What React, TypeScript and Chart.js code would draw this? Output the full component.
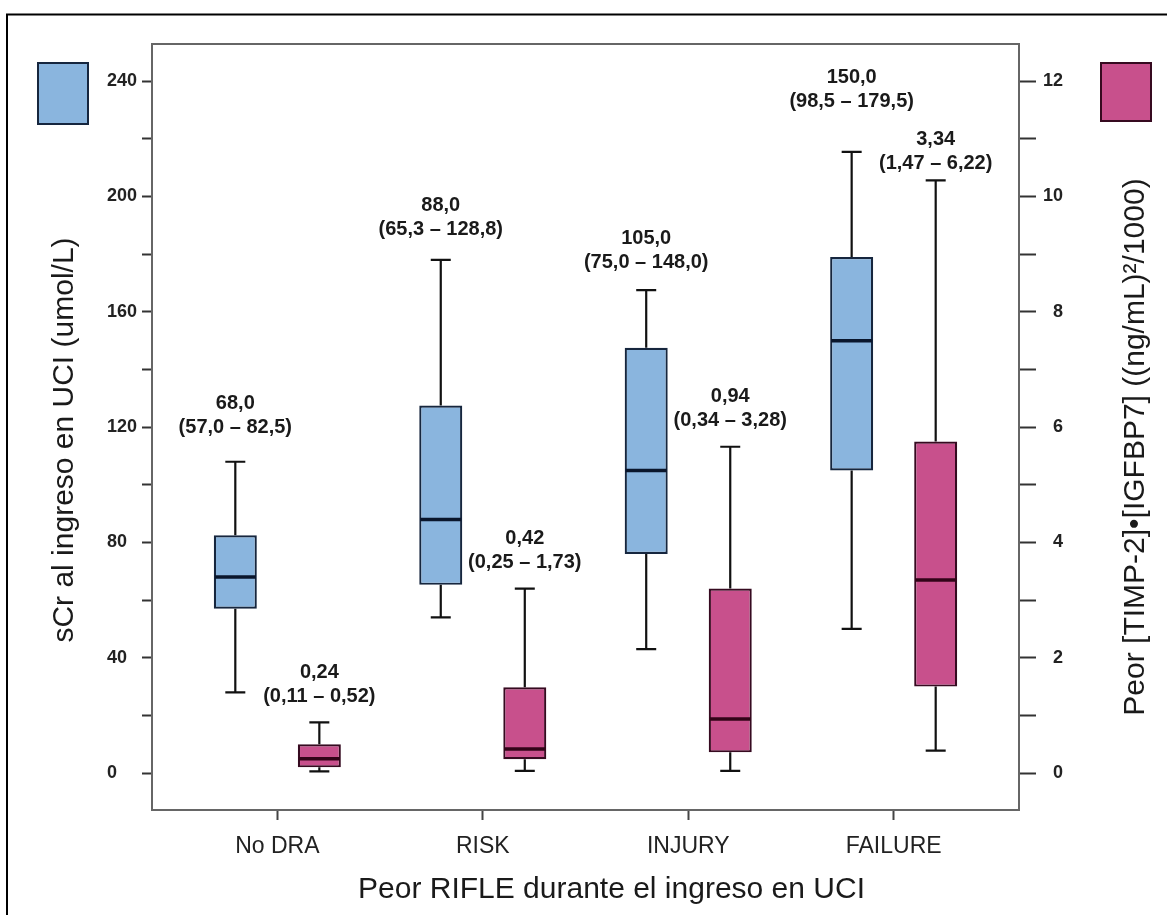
import React, { useEffect, useRef } from 'react';
import { Chart, registerables } from 'chart.js';

Chart.register(...registerables);

// ---------------- DATA ----------------
const categories = ['No DRA', 'RISK', 'INJURY', 'FAILURE'];

// sCr al ingreso en UCI (umol/L) — left axis, blue boxes
const sCrLow = [28, 54, 43, 50];
const sCrQ1 = [57, 65.3, 76, 105];
const sCrMedian = [68, 88, 105, 150];
const sCrQ3 = [82.5, 127.5, 147.5, 179];
const sCrHigh = [108, 178, 167.5, 215.5];
const sCrMedianLabels = ['68,0', '88,0', '105,0', '150,0'];
const sCrRangeLabels = ['(57,0 – 82,5)', '(65,3 – 128,8)', '(75,0 – 148,0)', '(98,5 – 179,5)'];

// Peor [TIMP-2]•[IGFBP7] — right axis, pink boxes
const bioLow = [0.03, 0.04, 0.04, 0.39];
const bioQ1 = [0.1, 0.24, 0.36, 1.5];
const bioMedian = [0.25, 0.42, 0.94, 3.35];
const bioQ3 = [0.5, 1.49, 3.2, 5.75];
const bioHigh = [0.88, 3.2, 5.66, 10.28];
const bioMedianLabels = ['0,24', '0,42', '0,94', '3,34'];
const bioRangeLabels = ['(0,11 – 0,52)', '(0,25 – 1,73)', '(0,34 – 3,28)', '(1,47 – 6,22)'];

// axis ticks (every value gets a tick mark; labelled ones listed separately)
const leftTickValues = [0, 20, 40, 60, 80, 100, 120, 140, 160, 180, 200, 220, 240];
const leftTickLabels = ['0', '40', '80', '120', '160', '200', '240'];
const rightTickValues = [0, 1, 2, 3, 4, 5, 6, 7, 8, 9, 10, 11, 12];
const rightTickLabels = ['0', '2', '4', '6', '8', '10', '12'];

// axis ranges
const leftMin = -12.8;
const leftMax = 252.9;
const rightRatio = 20; // right axis = left axis / 20

// ---------------- STYLE ----------------
const FONT = '"Liberation Sans", Arial, Helvetica, sans-serif';
const BLUE = '#8ab5de';
const BLUE_EDGE = '#16263e';
const BLUE_MED = '#0a162c';
const PINK = '#c8508c';
const PINK_EDGE = '#360a20';
const PINK_MED = '#320418';
const sCrLabelLift = [8, 4, 2, 24];
const bioLabelLift = [0, 0, 0, -9];

const seriesDefs = [
  {
    datasetIndex: 0, scaleId: 'y', low: sCrLow, q1: sCrQ1, median: sCrMedian, q3: sCrQ3, high: sCrHigh,
    medianLabels: sCrMedianLabels, rangeLabels: sCrRangeLabels, lift: sCrLabelLift,
    fill: BLUE, edge: BLUE_EDGE, medianColor: BLUE_MED,
  },
  {
    datasetIndex: 1, scaleId: 'y2', low: bioLow, q1: bioQ1, median: bioMedian, q3: bioQ3, high: bioHigh,
    medianLabels: bioMedianLabels, rangeLabels: bioRangeLabels, lift: bioLabelLift,
    fill: PINK, edge: PINK_EDGE, medianColor: PINK_MED,
  },
];

const boxPlugin = {
  id: 'boxDecor',
  beforeDatasetsDraw(chart: any) {
    const ctx = chart.ctx;
    ctx.save();
    ctx.strokeStyle = '#111';
    ctx.lineWidth = 2.2;
    for (const s of seriesDefs) {
      const meta = chart.getDatasetMeta(s.datasetIndex);
      const sc = chart.scales[s.scaleId];
      meta.data.forEach((bar: any, i: number) => {
        const { x } = bar.getProps(['x'], true);
        const yHigh = sc.getPixelForValue(s.high[i]);
        const yQ3 = sc.getPixelForValue(s.q3[i]);
        const yQ1 = sc.getPixelForValue(s.q1[i]);
        const yLow = sc.getPixelForValue(s.low[i]);
        const cap = 10;
        ctx.beginPath();
        ctx.moveTo(x, yQ3);
        ctx.lineTo(x, yHigh);
        ctx.moveTo(x - cap, yHigh);
        ctx.lineTo(x + cap, yHigh);
        ctx.moveTo(x, yQ1);
        ctx.lineTo(x, yLow);
        ctx.moveTo(x - cap, yLow);
        ctx.lineTo(x + cap, yLow);
        ctx.stroke();
      });
    }
    ctx.restore();
  },
  afterDatasetsDraw(chart: any) {
    const ctx = chart.ctx;
    ctx.save();
    for (const s of seriesDefs) {
      const meta = chart.getDatasetMeta(s.datasetIndex);
      const sc = chart.scales[s.scaleId];
      meta.data.forEach((bar: any, i: number) => {
        const { x, width } = bar.getProps(['x', 'width'], true);
        const yMed = sc.getPixelForValue(s.median[i]);
        ctx.strokeStyle = s.medianColor;
        ctx.lineWidth = 3.5;
        ctx.beginPath();
        ctx.moveTo(x - width / 2 + 1, yMed);
        ctx.lineTo(x + width / 2 - 1, yMed);
        ctx.stroke();
        const yHigh = sc.getPixelForValue(s.high[i]);
        ctx.fillStyle = '#1a1a1a';
        ctx.font = `bold 20px ${FONT}`;
        ctx.textAlign = 'center';
        ctx.textBaseline = 'middle';
        ctx.fillText(s.medianLabels[i], x, yHigh - 50 - s.lift[i]);
        ctx.fillText(s.rangeLabels[i], x, yHigh - 26 - s.lift[i]);
      });
    }
    ctx.restore();
  },
  afterDraw(chart: any) {
    const ctx = chart.ctx;
    const a = chart.chartArea;
    ctx.save();
    // outer frame
    ctx.strokeStyle = '#000';
    ctx.lineWidth = 2;
    ctx.strokeRect(7, 14.5, 1300, 1000);
    // plot area border
    ctx.strokeStyle = '#666';
    ctx.lineWidth = 2;
    ctx.strokeRect(a.left, a.top, a.right - a.left, a.bottom - a.top);
    // legend squares
    ctx.lineWidth = 2;
    ctx.fillStyle = BLUE;
    ctx.strokeStyle = BLUE_EDGE;
    ctx.fillRect(38, 63, 50, 61);
    ctx.strokeRect(38, 63, 50, 61);
    ctx.fillStyle = PINK;
    ctx.strokeStyle = PINK_EDGE;
    ctx.fillRect(1101, 63, 50, 58);
    ctx.strokeRect(1101, 63, 50, 58);
    // axis titles
    ctx.fillStyle = '#1a1a1a';
    ctx.font = `30px ${FONT}`;
    ctx.textAlign = 'center';
    ctx.textBaseline = 'alphabetic';
    ctx.fillText('Peor RIFLE durante el ingreso en UCI', (a.left + a.right) / 2 + 26, 898);
    ctx.save();
    ctx.translate(73, (a.top + a.bottom) / 2 + 13);
    ctx.rotate(-Math.PI / 2);
    ctx.fillText('sCr al ingreso en UCI (umol/L)', 0, 0);
    ctx.restore();
    ctx.save();
    ctx.translate(1144, (a.top + a.bottom) / 2 + 20);
    ctx.rotate(-Math.PI / 2);
    ctx.fillText('Peor [TIMP-2]•[IGFBP7] ((ng/mL)²/1000)', 0, 0);
    ctx.restore();
    ctx.restore();
  },
};

const tickFont = { family: FONT, size: 18, weight: 'bold' as const };

export default function App() {
  const ref = useRef<HTMLCanvasElement>(null);
  useEffect(() => {
    if (!ref.current) return;
    const chart = new Chart(ref.current, {
      type: 'bar',
      data: {
        datasets: [
          {
            label: 'sCr',
            yAxisID: 'y',
            data: categories.map((_, i) => ({ x: i, y: [sCrQ1[i], sCrQ3[i]] })) as any,
            backgroundColor: BLUE,
            borderColor: BLUE_EDGE,
            borderWidth: 2.2,
            borderSkipped: false,
            categoryPercentage: 0.818,
            barPercentage: 0.512,
          },
          {
            label: 'TIMP-2•IGFBP7',
            yAxisID: 'y2',
            data: categories.map((_, i) => ({ x: i, y: [bioQ1[i], bioQ3[i]] })) as any,
            backgroundColor: PINK,
            borderColor: PINK_EDGE,
            borderWidth: 2.2,
            borderSkipped: false,
            categoryPercentage: 0.818,
            barPercentage: 0.512,
          },
        ],
      },
      options: {
        responsive: false,
        animation: false,
        devicePixelRatio: 1,
        layout: { padding: { left: 107, right: 104, top: 44, bottom: 55 } },
        plugins: { legend: { display: false }, tooltip: { enabled: false } },
        scales: {
          x: {
            type: 'linear',
            bounds: 'data',
            offset: false,
            min: -0.61,
            max: 3.61,
            afterBuildTicks: (s: any) => {
              s.ticks = categories.map((_, i) => ({ value: i }));
            },
            afterFit: (s: any) => {
              s.height = 50;
            },
            ticks: {
              callback: (v: any) => categories[v] ?? '',
              font: { family: FONT, size: 23 },
              color: '#222',
              padding: 13,
              maxRotation: 0,
              autoSkip: false,
            },
            grid: { offset: false, drawOnChartArea: false, drawTicks: true, tickLength: 10, tickWidth: 2, tickColor: '#444' },
            border: { display: true, color: '#666', width: 2 },
          },
          y: {
            type: 'linear',
            position: 'left',
            bounds: 'data',
            min: leftMin,
            max: leftMax,
            afterBuildTicks: (s: any) => {
              s.ticks = leftTickValues.map((v) => ({ value: v }));
            },
            afterFit: (s: any) => {
              s.width = 45;
            },
            ticks: {
              autoSkip: false,
              crossAlign: 'far',
              padding: 5,
              font: tickFont,
              color: '#222',
              callback: (v: any) => (leftTickLabels.includes(String(v)) ? String(v) : ''),
            },
            grid: { drawOnChartArea: false, drawTicks: true, tickLength: 10, tickWidth: 2, tickColor: '#333' },
            border: { display: true, color: '#666', width: 2 },
          },
          y2: {
            type: 'linear',
            position: 'right',
            bounds: 'data',
            min: leftMin / rightRatio,
            max: leftMax / rightRatio,
            afterBuildTicks: (s: any) => {
              s.ticks = rightTickValues.map((v) => ({ value: v }));
            },
            afterFit: (s: any) => {
              s.width = 44;
            },
            ticks: {
              autoSkip: false,
              crossAlign: 'far',
              padding: 5,
              font: tickFont,
              color: '#222',
              callback: (v: any) => (rightTickLabels.includes(String(v)) ? String(v) : ''),
            },
            grid: { drawOnChartArea: false, drawTicks: true, tickLength: 17, tickWidth: 2, tickColor: '#333' },
            border: { display: true, color: '#666', width: 2 },
          },
        },
      } as any,
      plugins: [boxPlugin],
    });
    return () => chart.destroy();
  }, []);
  return (
    <div style={{ position: 'fixed', left: 0, top: 0, width: 1167, height: 915, background: '#fff' }}>
      <canvas ref={ref} width={1167} height={915} style={{ display: 'block', width: 1167, height: 915 }} />
    </div>
  );
}
